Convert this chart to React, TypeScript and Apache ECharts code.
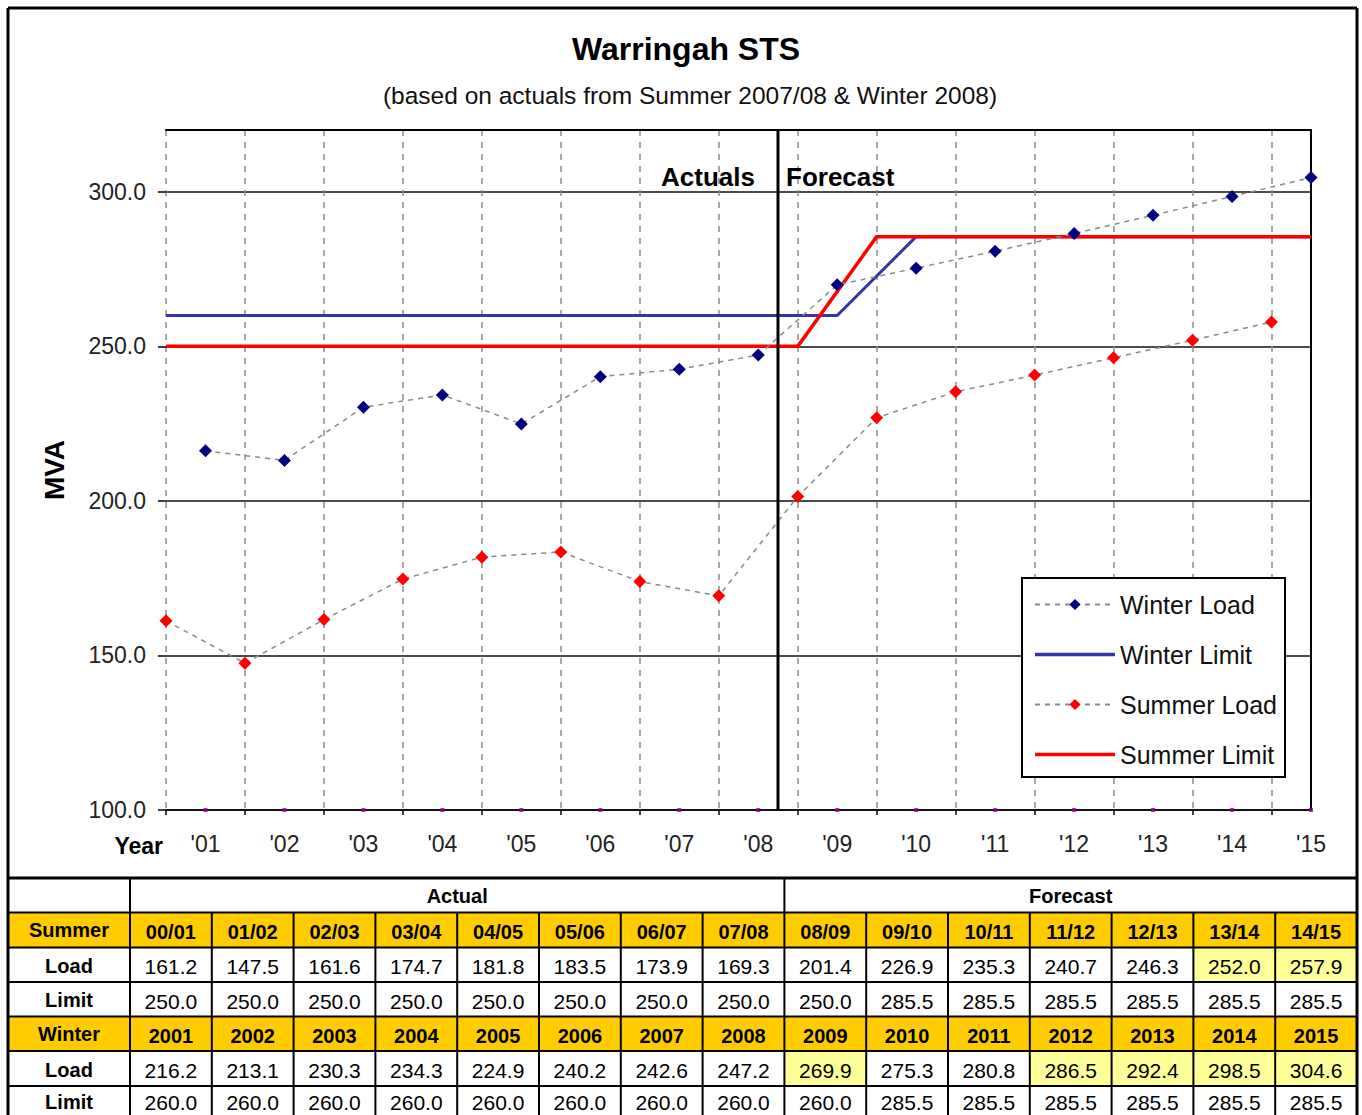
import React, { useEffect, useRef } from 'react';
import * as echarts from 'echarts';

// ---------- DATA ----------
const SUMMER_SEASONS = ['00/01', '01/02', '02/03', '03/04', '04/05', '05/06', '06/07', '07/08', '08/09', '09/10', '10/11', '11/12', '12/13', '13/14', '14/15'];
const WINTER_YEARS = ['2001', '2002', '2003', '2004', '2005', '2006', '2007', '2008', '2009', '2010', '2011', '2012', '2013', '2014', '2015'];
const SUMMER_LOAD = [161.2, 147.5, 161.6, 174.7, 181.8, 183.5, 173.9, 169.3, 201.4, 226.9, 235.3, 240.7, 246.3, 252.0, 257.9];
const SUMMER_LIMIT = [250.0, 250.0, 250.0, 250.0, 250.0, 250.0, 250.0, 250.0, 250.0, 285.5, 285.5, 285.5, 285.5, 285.5, 285.5];
const WINTER_LOAD = [216.2, 213.1, 230.3, 234.3, 224.9, 240.2, 242.6, 247.2, 269.9, 275.3, 280.8, 286.5, 292.4, 298.5, 304.6];
const WINTER_LIMIT = [260.0, 260.0, 260.0, 260.0, 260.0, 260.0, 260.0, 260.0, 260.0, 285.5, 285.5, 285.5, 285.5, 285.5, 285.5];
const SUMMER_HIGHLIGHT = ['13/14', '14/15'];
const WINTER_HIGHLIGHT = ['2009', '2012', '2013', '2014', '2015'];
const ACTUAL_PERIODS = 8;
const Y_MIN = 100;
const Y_MAX = 320;
const Y_STEP = 50;
const Y_TICKS = [100, 150, 200, 250, 300];
const TITLE = 'Warringah STS';
const SUBTITLE = '(based on actuals from Summer 2007/08 & Winter 2008)';

// ---------- STYLE CONSTANTS ----------
const FONT = '"Liberation Sans", Arial, sans-serif';
const GOLD = '#FFCC00';
const PALE = '#FFFF99';
const LINE_ICON = 'path://M0,0L80,0L80,3.5L0,3.5Z';

export default function App() {
  const ref = useRef<HTMLDivElement>(null);

  useEffect(() => {
    document.body.style.margin = '0';
    if (!ref.current) return;
    const chart = echarts.init(ref.current, null, { renderer: 'svg' });

    const n = SUMMER_SEASONS.length;
    const categories: string[] = [];
    for (let i = 0; i < n; i++) {
      categories.push(SUMMER_SEASONS[i]);
      categories.push(WINTER_YEARS[i]);
    }
    const total = categories.length;
    const empty = () => new Array(total).fill(null) as (number | null)[];
    const summerLoad = empty();
    const summerLimit = empty();
    const winterLoad = empty();
    const winterLimit = empty();
    for (let i = 0; i < n; i++) {
      summerLoad[2 * i] = SUMMER_LOAD[i];
      summerLimit[2 * i] = SUMMER_LIMIT[i];
      winterLoad[2 * i + 1] = WINTER_LOAD[i];
      winterLimit[2 * i + 1] = WINTER_LIMIT[i];
    }
    winterLimit[0] = WINTER_LIMIT[0];
    summerLimit[total - 1] = SUMMER_LIMIT[n - 1];
    const dividerX = 2 * ACTUAL_PERIODS - 0.5;
    const baseMarks = WINTER_YEARS.map((_, i) => [2 * i + 1, Y_MIN]);

    // ---------- TABLE (graphic) ----------
    const tLeft = 8;
    const tLabelRight = 130;
    const tRight = 1357;
    const colW = (tRight - tLabelRight) / n;
    const rowY = [878, 912.5, 947.5, 982, 1016.5, 1051, 1086, 1121];
    const colX = (j: number) => tLabelRight + j * colW;
    const g: any[] = [];
    const text = (t: string, x: number, y: number, bold: boolean, size = 21, align = 'center') => ({
      type: 'text', x, y, z: 10,
      style: {
        text: t, fill: '#000', fontSize: size, fontWeight: bold ? 'bold' : 'normal', fontFamily: FONT,
        align, verticalAlign: 'middle', textAlign: align, textVerticalAlign: 'middle',
      },
    });
    const line = (x1: number, y1: number, x2: number, y2: number, w = 2) => ({
      type: 'line', z: 11, shape: { x1, y1, x2, y2 }, style: { stroke: '#000', lineWidth: w },
    });
    const rect = (x: number, y: number, w: number, h: number, fill: string) => ({
      type: 'rect', z: 9, shape: { x, y, width: w, height: h }, style: { fill },
    });
    // gold rows
    g.push(rect(tLeft, rowY[1], tRight - tLeft, rowY[2] - rowY[1], GOLD));
    g.push(rect(tLeft, rowY[4], tRight - tLeft, rowY[5] - rowY[4], GOLD));
    // highlights
    SUMMER_SEASONS.forEach((s, j) => {
      if (SUMMER_HIGHLIGHT.includes(s)) g.push(rect(colX(j), rowY[2], colW, rowY[3] - rowY[2], PALE));
    });
    WINTER_YEARS.forEach((s, j) => {
      if (WINTER_HIGHLIGHT.includes(s)) g.push(rect(colX(j), rowY[5], colW, rowY[6] - rowY[5], PALE));
    });
    // header row
    g.push(text('Actual', (tLabelRight + colX(ACTUAL_PERIODS)) / 2, (rowY[0] + rowY[1]) / 2 + 1, true, 20));
    g.push(text('Forecast', (colX(ACTUAL_PERIODS) + tRight) / 2, (rowY[0] + rowY[1]) / 2 + 1, true, 20));
    const rows: { label: string; cells: string[]; bold: boolean }[] = [
      { label: 'Summer', cells: SUMMER_SEASONS, bold: true },
      { label: 'Load', cells: SUMMER_LOAD.map((v) => v.toFixed(1)), bold: false },
      { label: 'Limit', cells: SUMMER_LIMIT.map((v) => v.toFixed(1)), bold: false },
      { label: 'Winter', cells: WINTER_YEARS, bold: true },
      { label: 'Load', cells: WINTER_LOAD.map((v) => v.toFixed(1)), bold: false },
      { label: 'Limit', cells: WINTER_LIMIT.map((v) => v.toFixed(1)), bold: false },
    ];
    rows.forEach((r, ri) => {
      const yTop = rowY[ri + 1];
      const yBot = rowY[ri + 2];
      let yc = (yTop + yBot) / 2 + 2;
      if (ri === rows.length - 1) yc = 1102.5;
      g.push(text(r.label, (tLeft + tLabelRight) / 2, r.bold ? yc - 2 : yc - 1, true, 20));
      r.cells.forEach((c, j) => {
        g.push(text(c, colX(j) + colW / 2, yc, r.bold, r.bold ? 20 : 21));
      });
    });
    // grid lines
    for (let k = 1; k < rowY.length - 1; k++) g.push(line(tLeft, rowY[k], tRight, rowY[k], 2));
    g.push(line(tLabelRight, rowY[0], tLabelRight, 1125, 2));
    for (let j = 1; j < n; j++) {
      const y1 = j === ACTUAL_PERIODS ? rowY[0] : rowY[1];
      g.push(line(colX(j), y1, colX(j), 1125, 2));
    }
    // outer frame
    g.push(line(tLeft, 8, tRight, 8, 3));
    g.push(line(tLeft, 8, tLeft, 1125, 3));
    g.push(line(tRight, 8, tRight, 1125, 3));
    g.push(line(tLeft, rowY[0], tRight, rowY[0], 3));
    // Actuals / Forecast labels
    g.push({
      type: 'text', x: 755, y: 177, z: 10,
      style: { text: 'Actuals', fill: '#000', fontSize: 26, fontWeight: 'bold', fontFamily: FONT, align: 'right', textAlign: 'right', verticalAlign: 'middle', textVerticalAlign: 'middle' },
    });
    g.push({
      type: 'text', x: 786, y: 177, z: 10,
      style: { text: 'Forecast', fill: '#000', fontSize: 26, fontWeight: 'bold', fontFamily: FONT, align: 'left', textAlign: 'left', verticalAlign: 'middle', textVerticalAlign: 'middle' },
    });
    g.push({
      type: 'text', x: 163, y: 846, z: 10,
      style: { text: 'Year', fill: '#000', fontSize: 23, fontWeight: 'bold', fontFamily: FONT, align: 'right', textAlign: 'right', verticalAlign: 'middle', textVerticalAlign: 'middle' },
    });

    const loadLine = { color: '#8a8a8a', width: 1.5, type: [5, 5] as any };

    chart.setOption({
      animation: false,
      backgroundColor: '#fff',
      textStyle: { fontFamily: FONT },
      title: [
        { text: TITLE, left: 681, top: 28, textAlign: 'center', textStyle: { fontSize: 32, fontWeight: 'bold', color: '#000', fontFamily: FONT } },
        { text: SUBTITLE, left: 685, top: 78, textAlign: 'center', textStyle: { fontSize: 24.5, fontWeight: 'normal', color: '#111', fontFamily: FONT } },
      ],
      grid: { left: 166, right: 51, top: 130, bottom: 305 },
      legend: {
        data: [
          { name: 'Winter Load' },
          { name: 'Winter Limit', icon: LINE_ICON },
          { name: 'Summer Load' },
          { name: 'Summer Limit', icon: LINE_ICON },
        ],
        orient: 'vertical',
        left: 1022,
        top: 578,
        backgroundColor: '#fff',
        borderColor: '#000',
        borderWidth: 2,
        padding: [14, 8, 10, 12],
        itemGap: 25,
        itemWidth: 80,
        itemHeight: 14,
        textStyle: { fontSize: 25, color: '#111', fontFamily: FONT },
        selectedMode: false,
      },
      xAxis: [
        {
          type: 'category',
          data: categories,
          boundaryGap: false,
          axisLine: { lineStyle: { color: '#000', width: 1.5 } },
          axisTick: { interval: (i: number) => i % 2 === 0, length: 5, lineStyle: { color: '#000', width: 1.5 } },
          axisLabel: {
            interval: (i: number) => i % 2 === 1,
            formatter: (v: string) => "'" + v.slice(2),
            fontSize: 23, color: '#222', margin: 22, fontFamily: FONT,
          },
          splitLine: { show: true, interval: (i: number) => i % 2 === 0, lineStyle: { color: '#8a8a8a', type: [6, 6], width: 1.5 } },
        },
        {
          type: 'value', min: 0, max: total - 1, position: 'top',
          axisLine: { show: true, onZero: false, lineStyle: { color: '#000', width: 2 } },
          axisTick: { show: false }, axisLabel: { show: false }, splitLine: { show: false },
        },
      ],
      yAxis: [
        {
          type: 'value', min: Y_MIN, max: Y_MAX, interval: Y_STEP,
          axisLine: { show: false },
          axisTick: { show: true, length: 8, customValues: Y_TICKS, lineStyle: { color: '#000', width: 1.5 } },
          axisLabel: {
            customValues: Y_TICKS,
            formatter: (v: number) => v.toFixed(1),
            fontSize: 23, color: '#222', margin: 20, fontFamily: FONT,
          },
          splitLine: { lineStyle: { color: '#111', width: 1.5 } },
          name: 'MVA', nameLocation: 'middle', nameGap: 98, nameRotate: 90,
          nameTextStyle: { fontSize: 28, fontWeight: 'bold', color: '#000', fontFamily: FONT },
        },
        {
          type: 'value', min: Y_MIN, max: Y_MAX, position: 'right',
          axisLine: { show: true, lineStyle: { color: '#000', width: 2 } },
          axisTick: { show: false }, axisLabel: { show: false }, splitLine: { show: false },
        },
      ],
      series: [
        {
          name: 'Winter Load', type: 'line', data: winterLoad, connectNulls: true,
          symbol: 'diamond', symbolSize: 13, itemStyle: { color: '#000080' }, lineStyle: loadLine, z: 6,
        },
        {
          name: 'Winter Limit', type: 'line', data: winterLimit, connectNulls: true,
          symbol: 'none', itemStyle: { color: '#3535a5' }, lineStyle: { color: '#3535a5', width: 3 }, z: 4,
        },
        {
          name: 'Summer Load', type: 'line', data: summerLoad, connectNulls: true,
          symbol: 'diamond', symbolSize: 13, itemStyle: { color: '#ff0000' }, lineStyle: loadLine, z: 6,
        },
        {
          name: 'Summer Limit', type: 'line', data: summerLimit, connectNulls: true,
          symbol: 'none', itemStyle: { color: '#ff0000' }, lineStyle: { color: '#ff0000', width: 3.5 }, z: 5,
        },
        {
          name: 'divider', type: 'line', xAxisIndex: 1, data: [[dividerX, Y_MIN], [dividerX, Y_MAX]],
          symbol: 'none', lineStyle: { color: '#000', width: 3 }, z: 7,
        },
        {
          name: 'base', type: 'scatter', data: baseMarks, symbol: 'rect', symbolSize: 4,
          itemStyle: { color: '#990099' }, z: 7,
        },
      ],
      graphic: g,
    });

    return () => chart.dispose();
  }, []);

  return <div ref={ref} style={{ width: 1362, height: 1115 }} />;
}
